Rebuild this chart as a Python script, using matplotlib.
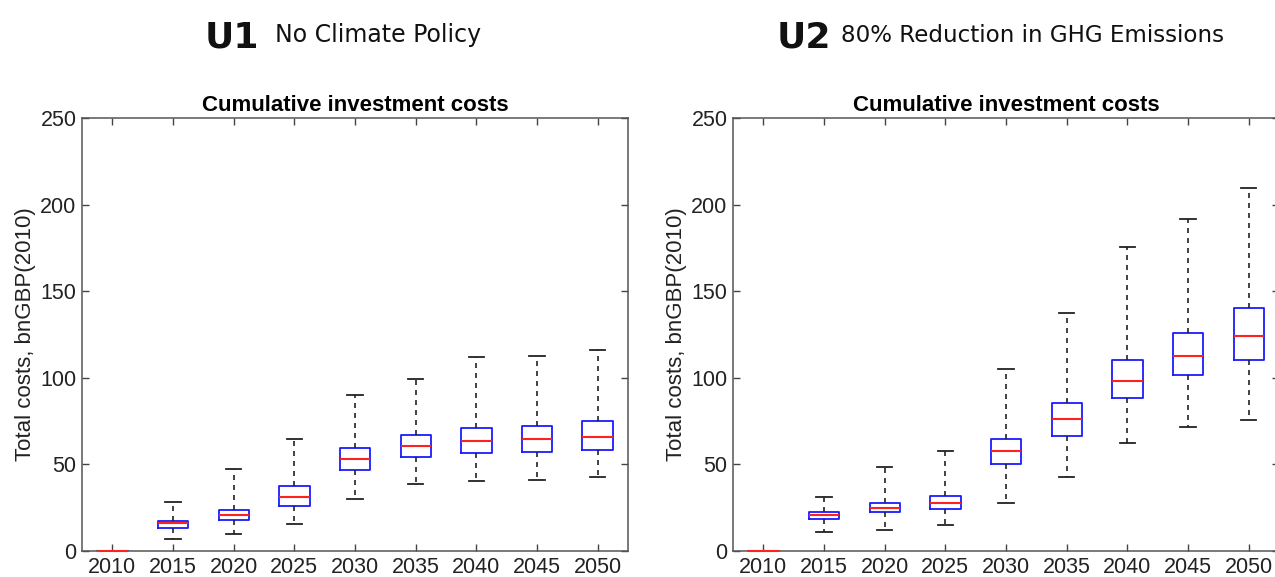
import matplotlib
matplotlib.use("Agg")
import matplotlib.pyplot as plt

years = ["2010", "2015", "2020", "2025", "2030", "2035", "2040", "2045", "2050"]

# U1 - no climate policy
u1_low = [0, 6.7, 9.6, 15.6, 30.2, 38.7, 40.2, 41.0, 42.7]
u1_q1 = [0, 13.5, 17.9, 26.2, 46.7, 54.2, 56.7, 57.3, 58.3]
u1_med = [0, 16.0, 20.6, 31.2, 53.1, 60.6, 63.3, 64.4, 66.0]
u1_q3 = [0, 17.5, 23.5, 37.7, 59.2, 66.7, 71.2, 72.1, 74.8]
u1_high = [0, 28.3, 47.3, 64.4, 89.8, 99.2, 111.9, 112.3, 116.2]

# U2 - 80% reduction in GHG emissions
u2_low = [0, 11.0, 11.9, 14.8, 27.7, 42.5, 62.1, 71.7, 75.4]
u2_q1 = [0, 18.3, 22.3, 24.2, 50.0, 66.5, 88.1, 101.7, 110.4]
u2_med = [0, 20.8, 24.8, 27.9, 57.5, 76.2, 98.3, 112.5, 124.2]
u2_q3 = [0, 22.5, 27.9, 31.9, 64.6, 85.4, 110.2, 125.8, 140.4]
u2_high = [0, 31.2, 48.7, 57.9, 105.0, 137.7, 175.6, 191.9, 209.6]

plt.rcParams["font.family"] = ["Liberation Sans", "DejaVu Sans"]


def make_stats(low, q1, med, q3, high):
    return [
        dict(whislo=a, q1=b, med=c, q3=d, whishi=e, fliers=[], label=y)
        for a, b, c, d, e, y in zip(low, q1, med, q3, high, years)
    ]


def draw_panel(ax, stats):
    ax.bxp(
        stats,
        widths=0.5,
        capwidths=0.25,
        showfliers=False,
        boxprops=dict(color="#1a1aff", linewidth=1.3),
        medianprops=dict(color="#ff2020", linewidth=1.5, zorder=3, clip_on=False),
        whiskerprops=dict(color="#222222", linestyle=(0, (3, 3)), linewidth=1.2),
        capprops=dict(color="#222222", linewidth=1.3),
    )
    ax.set_xlim(0.5, len(years) + 0.5)
    ax.set_ylim(0, 250)
    ax.set_yticks([0, 50, 100, 150, 200, 250])
    ax.tick_params(direction="in", top=True, right=True, length=5,
                   width=1, color="#444444", labelsize=15.5,
                   labelcolor="#222222", pad=4)
    for s in ax.spines.values():
        s.set_color("#555555")
        s.set_linewidth(1.1)
    ax.set_title("Cumulative investment costs", fontsize=16,
                 fontweight="bold", pad=5)
    ax.set_ylabel("Total costs, bnGBP(2010)", fontsize=16,
                  color="#222222", labelpad=3)


fig = plt.figure(figsize=(12.75, 5.77), dpi=100)
ax1 = fig.add_axes([82 / 1275, 26 / 577, 546 / 1275, 433 / 577])
ax2 = fig.add_axes([733 / 1275, 26 / 577, 546 / 1275, 433 / 577])

draw_panel(ax1, make_stats(u1_low, u1_q1, u1_med, u1_q3, u1_high))
draw_panel(ax2, make_stats(u2_low, u2_q1, u2_med, u2_q3, u2_high))

head = dict(family=["DejaVu Sans"], va="baseline", color="#111111")
fig.text(205 / 1275, 1 - 47 / 577, "U1", fontsize=26, fontweight="bold", **head)
fig.text(275 / 1275, 1 - 42 / 577, "No Climate Policy", fontsize=17, **head)
fig.text(777 / 1275, 1 - 47 / 577, "U2", fontsize=26, fontweight="bold", **head)
fig.text(841 / 1275, 1 - 42 / 577, "80% Reduction in GHG Emissions", fontsize=16.6, **head)

fig.savefig("out.png", dpi=100)
